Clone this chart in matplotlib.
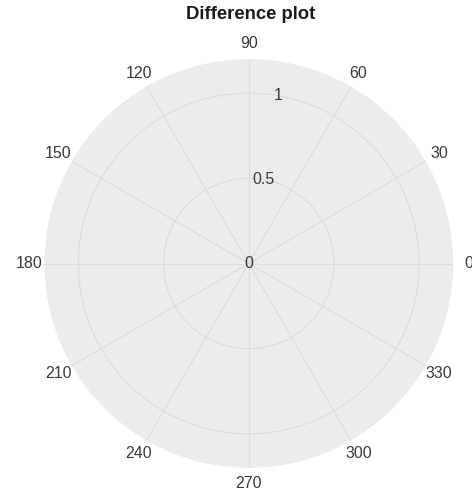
import numpy as np
import matplotlib.pyplot as plt

# angle ticks (degrees) and radial ticks
angle_ticks = [0, 30, 60, 90, 120, 150, 180, 210, 240, 270, 300, 330]
angle_labels = ['0', '30', '60', '90', '120', '150', '180', '210', '240', '270', '300', '330']
radial_ticks = [0, 0.5, 1]
radial_labels = ['0', '0.5', '1']
r_max = 1.2

# difference data (nothing visible in the reference)
diff_theta = []
diff_r = []

plt.rcParams['font.family'] = ['Liberation Sans', 'DejaVu Sans']

fig = plt.figure(figsize=(4.72, 4.97), dpi=100)
ax = fig.add_axes([0.094, 0.0583, 0.866, 0.823], projection='polar')
ax.set_facecolor('#ececec')

ax.plot(np.deg2rad(diff_theta), diff_r, color='#1f77b4')

ax.set_ylim(0, r_max)
ax.set_xticks(np.deg2rad(angle_ticks))
ax.set_xticklabels(angle_labels)
ax.set_yticks(radial_ticks)
ax.set_yticklabels(radial_labels)
ax.set_rlabel_position(80)

ax.grid(True, color='#dcdcdc', linewidth=0.8)
ax.spines['polar'].set_visible(False)
ax.tick_params(axis='x', labelsize=11.5, colors='#3a3a3a', pad=0.5)
ax.tick_params(axis='y', labelsize=11.5, colors='#3a3a3a')
for lbl in ax.get_yticklabels():
    lbl.set_horizontalalignment('center')
    lbl.set_verticalalignment('center')

fig.text(0.532, 0.971, 'Difference plot', ha='center', va='center',
         fontsize=13.3, fontweight='bold', color='#1a1a1a')

fig.savefig('out.png', dpi=100)
